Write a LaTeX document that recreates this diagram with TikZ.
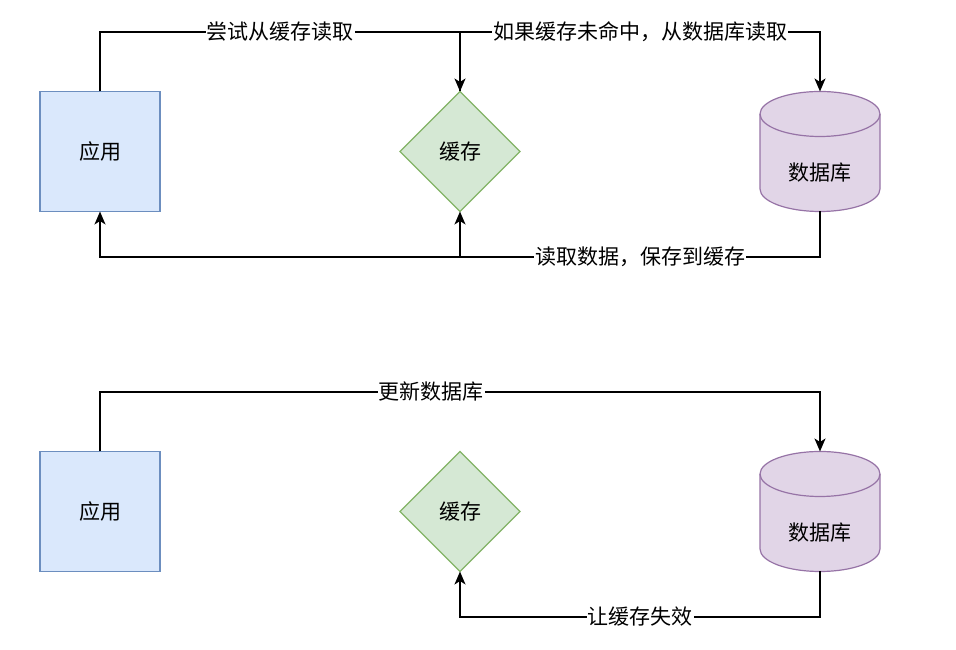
\documentclass[tikz,border=0pt]{standalone}
\usepackage{fontspec}
\setmainfont{Noto Sans CJK SC}
\usetikzlibrary{arrows.meta,shapes.geometric}
\tikzset{>={Stealth[length=13pt,width=11pt,inset=3.5pt]}}
\definecolor{DrawioBlue}{HTML}{DAE8FC}
\definecolor{DrawioDarkBlue}{HTML}{6C8EBF}
\definecolor{DrawioGreen}{HTML}{D5E8D4}
\definecolor{DrawioDarkGreen}{HTML}{82B366}
\definecolor{DrawioPurple}{HTML}{E1D5E7}
\definecolor{DrawioDarkPurple}{HTML}{9673A6}
\colorlet{AppFill}{DrawioBlue}
\colorlet{AppLine}{DrawioDarkBlue}
\colorlet{CacheFill}{DrawioGreen}
\colorlet{CacheLine}{DrawioDarkGreen}
\colorlet{DbFill}{DrawioPurple}
\colorlet{DbLine}{DrawioDarkPurple}
\tikzset{
  AppBox/.style={
      draw=AppLine, fill=AppFill, line width=1.2pt,
      minimum width=120pt, minimum height=120pt, outer sep=0pt
    },
  CacheBox/.style={
      diamond, aspect=1, draw=CacheLine, fill=CacheFill, line width=1.2pt,
      minimum width=120pt, minimum height=120pt, inner sep=0pt, outer sep=0pt
    },
  DbBox/.style={minimum width=120pt, minimum height=120pt, outer sep=0pt},
  Flow/.style={line width=1.5pt},
  FlowLabel/.style={fill=white, inner sep=1pt}
}
% cylinder drawn round the (empty) node #1
\newcommand{\DrawDb}[1]{
  \filldraw[DbLine, fill=DbFill, line width=1.2pt]
    ([yshift=-22.5pt]#1.north west) -- ++(0,-75)
    arc[start angle=180, end angle=360, x radius=60, y radius=22.5] -- ++(0,75)
    arc[start angle=0, end angle=180, x radius=60, y radius=22.5] -- cycle;
  \draw[DbLine, line width=1.2pt] ([yshift=-22.5pt]#1.north west)
    arc[start angle=180, end angle=360, x radius=60, y radius=22.5];
}

\begin{document}
\begin{tikzpicture}[x=1pt, y=1pt, font=\fontsize{21}{25}\selectfont]
  \useasboundingbox (0,0) rectangle (956,650);

  % read path
  \node[AppBox] (app) at (100,498.5) {应用};
  \node[CacheBox] (cache) at (460,498.5) {缓存};
  \node[DbBox] (db) at (820,498.5) {};
  \DrawDb{db}
  \node (dbname) at ([yshift=-21pt]db.center) {数据库};

  \coordinate (tl) at (app.north |- 0,618);
  \coordinate (tm) at (cache.north |- 0,618);
  \coordinate (tr) at (db.north |- 0,618);
  \coordinate (bl) at (app.south |- 0,393);
  \coordinate (bm) at (cache.south |- 0,393);
  \coordinate (br) at (db.south |- 0,393);

  \draw[Flow, ->] (app.north) -- (tl) -- node[FlowLabel] {尝试从缓存读取} (tm) -- (cache.north);
  \draw[Flow, ->] (cache.north) -- (tm) -- node[FlowLabel] {如果缓存未命中，从数据库读取} (tr) -- (db.north);
  \draw[Flow, ->] (db.south) -- (br) -- node[FlowLabel] {读取数据，保存到缓存} (bm) -- (cache.south);
  \draw[Flow, ->] (bm) -- (bl) -- (app.south);

  % write path
  \node[AppBox] (app2) at (100,138.5) {应用};
  \node[CacheBox] (cache2) at (460,138.5) {缓存};
  \node[DbBox] (db2) at (820,138.5) {};
  \DrawDb{db2}
  \node (dbname2) at ([yshift=-21pt]db2.center) {数据库};

  \coordinate (tl2) at (app2.north |- 0,258);
  \coordinate (tr2) at (db2.north |- 0,258);
  \coordinate (bm2) at (cache2.south |- 0,33);
  \coordinate (br2) at (db2.south |- 0,33);

  \draw[Flow, ->] (app2.north) -- (tl2) -- node[FlowLabel, pos=0.46] {更新数据库} (tr2) -- (db2.north);
  \draw[Flow, ->] (db2.south) -- (br2) -- node[FlowLabel] {让缓存失效} (bm2) -- (cache2.south);
\end{tikzpicture}
\end{document}
